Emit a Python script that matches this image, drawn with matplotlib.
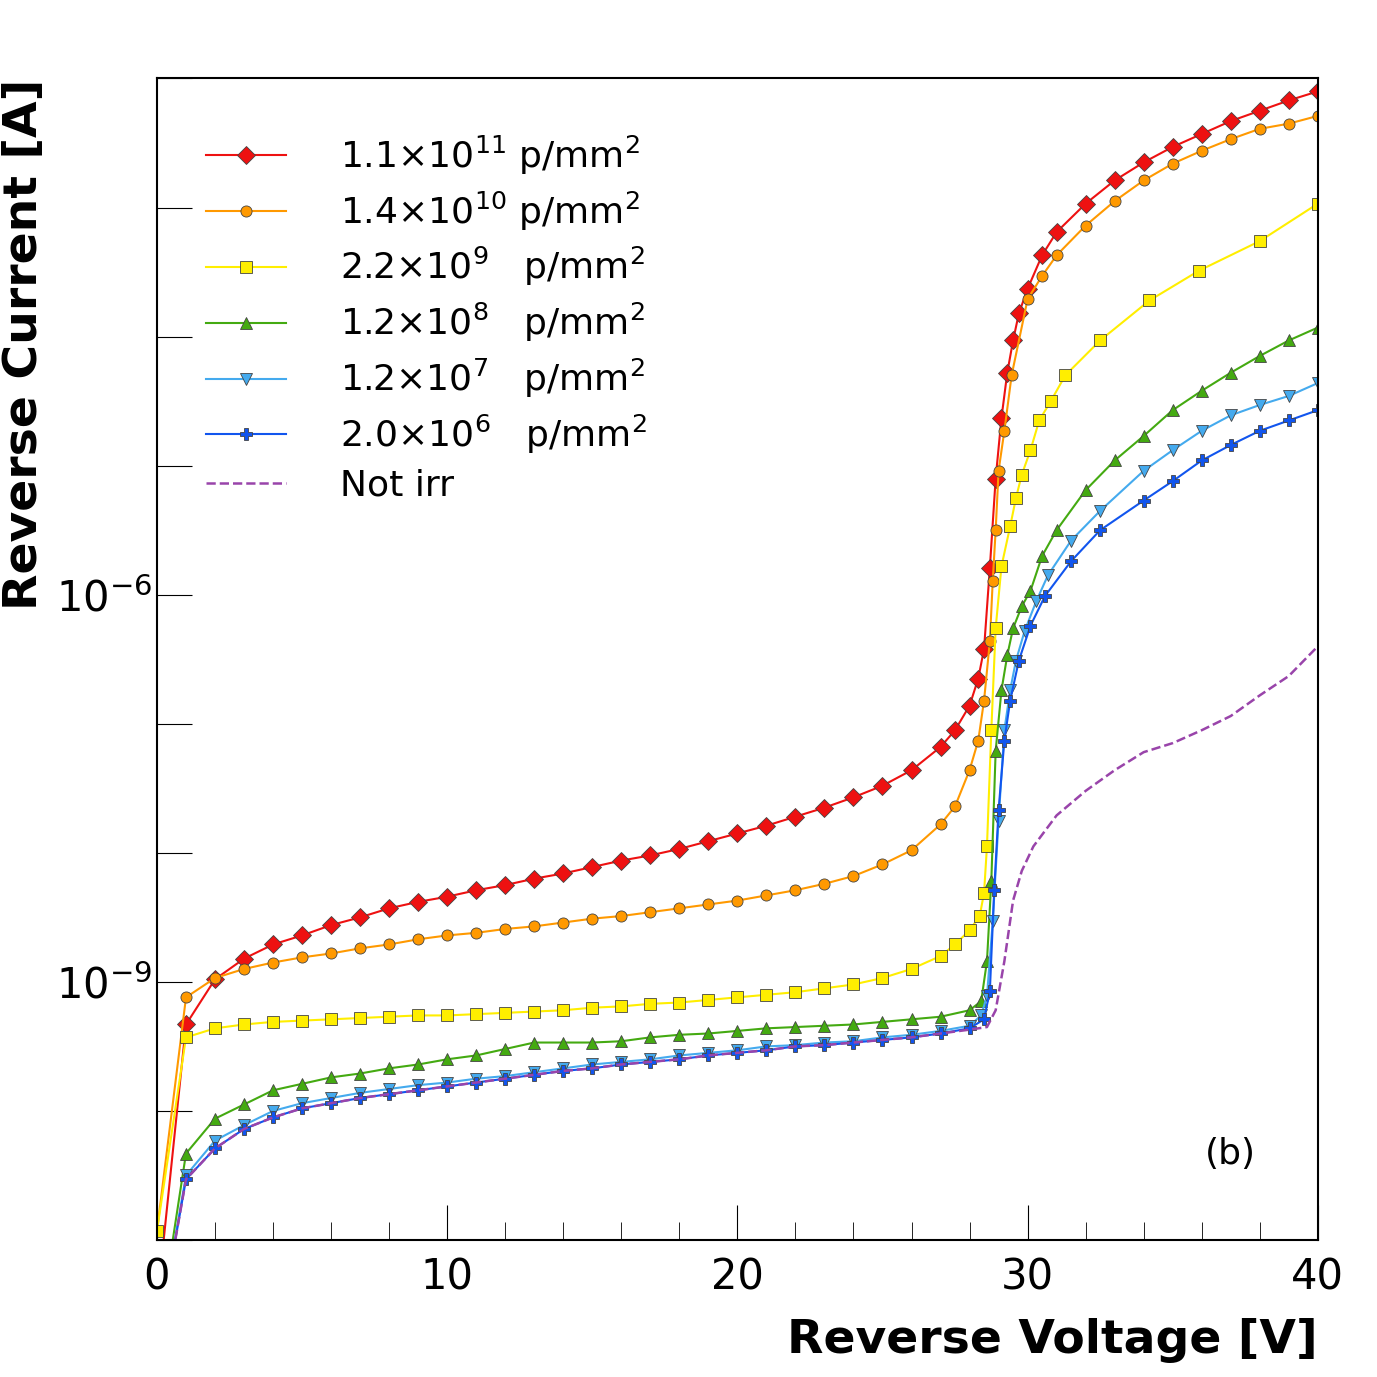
import numpy as np
import matplotlib
matplotlib.use("Agg")
import matplotlib.pyplot as plt
from matplotlib.ticker import FixedLocator, FixedFormatter, MultipleLocator

low_v = list(range(0, 26))

red_v = low_v + [26, 27, 27.5, 28, 28.3, 28.5, 28.7, 28.9, 29.1, 29.3, 29.5, 29.7, 30, 30.5, 31, 32, 33, 34, 35, 36, 37, 38, 39, 40]
red_log = [-11.5, -9.33, -8.98, -8.82, -8.71, -8.64, -8.56, -8.50, -8.43, -8.38, -8.34, -8.29, -8.25, -8.20, -8.16, -8.11,
           -8.06, -8.02, -7.97, -7.91, -7.85, -7.79, -7.72, -7.65, -7.57, -7.48,
           -7.36, -7.18, -7.05, -6.86, -6.65, -6.42, -5.79, -5.10, -4.63, -4.28, -4.03, -3.82, -3.63, -3.37, -3.19,
           -2.97, -2.79, -2.65, -2.53, -2.43, -2.33, -2.25, -2.17, -2.10]

orange_v = low_v + [26, 27, 27.5, 28, 28.3, 28.5, 28.7, 28.8, 28.9, 29.0, 29.2, 29.45, 30, 30.5, 31, 32, 33, 34, 35, 36, 37, 38, 39, 40]
orange_log = [-10.93, -9.12, -8.97, -8.90, -8.85, -8.81, -8.78, -8.74, -8.71, -8.67, -8.64, -8.62, -8.59, -8.57, -8.54, -8.51,
              -8.49, -8.46, -8.43, -8.40, -8.37, -8.33, -8.29, -8.24, -8.18, -8.09,
              -7.98, -7.78, -7.64, -7.36, -7.13, -6.82, -6.36, -5.89, -5.50, -5.04, -4.73, -4.30, -3.71, -3.53, -3.37,
              -3.14, -2.95, -2.79, -2.66, -2.56, -2.47, -2.39, -2.35, -2.29]

yellow_v = low_v + [26, 27, 27.5, 28, 28.35, 28.5, 28.6, 28.75, 28.9, 29.1, 29.4, 29.6, 29.8, 30.1, 30.4, 30.8, 31.3, 32.5, 34.2, 35.9, 38, 40]
yellow_log = [-10.93, -9.43, -9.36, -9.33, -9.31, -9.30, -9.29, -9.28, -9.27, -9.26, -9.26, -9.25, -9.24, -9.23, -9.22, -9.20,
              -9.19, -9.17, -9.16, -9.14, -9.12, -9.10, -9.08, -9.05, -9.02, -8.97,
              -8.90, -8.80, -8.71, -8.60, -8.49, -8.31, -7.95, -7.05, -6.26, -5.78, -5.47, -5.25, -5.07, -4.88, -4.65,
              -4.50, -4.30, -4.03, -3.72, -3.49, -3.26, -2.97]

green_v = low_v + [26, 27, 28, 28.4, 28.6, 28.75, 28.9, 29.1, 29.3, 29.5, 29.8, 30.1, 30.5, 31, 32, 33, 34, 35, 36, 37, 38, 39, 40]
green_log = [-11.8, -10.33, -10.06, -9.95, -9.84, -9.79, -9.74, -9.71, -9.67, -9.64, -9.60, -9.57, -9.52, -9.47, -9.47, -9.47,
             -9.46, -9.43, -9.41, -9.40, -9.38, -9.36, -9.35, -9.34, -9.33, -9.31,
             -9.29, -9.27, -9.22, -9.15, -8.84, -8.22, -7.21, -6.74, -6.47, -6.26, -6.09, -5.97, -5.70, -5.50,
             -5.19, -4.96, -4.77, -4.57, -4.42, -4.28, -4.15, -4.03, -3.93]

lblue_v = low_v + [26, 27, 28, 28.4, 28.6, 28.8, 29.0, 29.2, 29.4, 29.6, 29.9, 30.3, 30.7, 31.5, 32.5, 34, 35, 36, 37, 38, 39, 40]
lblue_log = [-11.8, -10.50, -10.23, -10.11, -10.00, -9.94, -9.90, -9.86, -9.83, -9.80, -9.78, -9.75, -9.73, -9.70, -9.67, -9.64,
             -9.62, -9.60, -9.57, -9.55, -9.53, -9.50, -9.49, -9.47, -9.46, -9.43,
             -9.41, -9.38, -9.34, -9.26, -9.11, -8.53, -7.75, -7.05, -6.74, -6.51, -6.28, -6.05, -5.85, -5.58,
             -5.35, -5.04, -4.88, -4.73, -4.61, -4.53, -4.46, -4.36]

dblue_v = low_v + [26, 27, 28, 28.5, 28.7, 28.85, 29.0, 29.2, 29.4, 29.7, 30.1, 30.6, 31.5, 32.5, 34, 35, 36, 37, 38, 39, 40]
dblue_log = [-11.8, -10.53, -10.29, -10.14, -10.05, -9.98, -9.94, -9.90, -9.87, -9.84, -9.81, -9.78, -9.75, -9.72, -9.69, -9.67,
             -9.64, -9.62, -9.60, -9.57, -9.55, -9.53, -9.50, -9.49, -9.47, -9.45,
             -9.43, -9.40, -9.36, -9.29, -9.07, -8.29, -7.67, -7.13, -6.82, -6.51, -6.24, -6.01, -5.74, -5.50,
             -5.27, -5.12, -4.96, -4.84, -4.73, -4.65, -4.57]

nirr_v = low_v + [26, 27, 28, 28.6, 28.9, 29.2, 29.5, 29.8, 30.2, 31, 32, 33, 34, 35, 36, 37, 38, 39, 40]
nirr_log = [-11.8, -10.53, -10.29, -10.14, -10.05, -9.98, -9.94, -9.90, -9.87, -9.84, -9.81, -9.78, -9.75, -9.72, -9.69, -9.67,
            -9.64, -9.62, -9.60, -9.57, -9.55, -9.53, -9.50, -9.49, -9.47, -9.45,
            -9.43, -9.40, -9.37, -9.35, -9.22, -8.84, -8.37, -8.14, -7.95, -7.71, -7.52, -7.36, -7.22, -7.15,
            -7.05, -6.94, -6.78, -6.63, -6.40]

labels = [r"1.1$\times$10$^{11}$ p/mm$^2$", r"1.4$\times$10$^{10}$ p/mm$^2$", r"2.2$\times$10$^{9}$   p/mm$^2$",
          r"1.2$\times$10$^{8}$   p/mm$^2$", r"1.2$\times$10$^{7}$   p/mm$^2$", r"2.0$\times$10$^{6}$   p/mm$^2$", "Not irr"]

fig = plt.figure(figsize=(13.77, 13.77), dpi=100)
ax = fig.add_axes([0.114, 0.0995, 0.843, 0.8435])

series = [
    (red_v, red_log, "#ee1111", "D", 9),
    (orange_v, orange_log, "#ff9900", "o", 8),
    (yellow_v, yellow_log, "#ffee00", "s", 8),
    (green_v, green_log, "#44aa11", "^", 9),
    (lblue_v, lblue_log, "#44aaee", "v", 9),
    (dblue_v, dblue_log, "#1155ee", "P", 8),
]
for (v, lg, c, m, ms), lab in zip(series, labels[:6]):
    ax.plot(v, 10.0 ** np.array(lg), color=c, marker=m, markersize=ms, markeredgecolor="#444444",
            markeredgewidth=0.6, lw=1.5, label=lab, clip_on=True)
ax.plot(nirr_v, 10.0 ** np.array(nirr_log), color="#9944aa", ls="--", lw=1.8, label=labels[6])

ax.set_yscale("log")
ax.set_xlim(0, 40)
ax.set_ylim(1e-11, 1e-2)
ax.yaxis.set_major_locator(FixedLocator([10.0 ** k for k in range(-11, -1)]))
ax.yaxis.set_minor_locator(FixedLocator([]))
ax.yaxis.set_major_formatter(FixedFormatter(["", "", r"$10^{-9}$", "", "", r"$10^{-6}$", "", "", "", ""]))
ax.xaxis.set_major_locator(MultipleLocator(10))
ax.xaxis.set_minor_locator(MultipleLocator(2))
ax.tick_params(axis="both", which="both", direction="in", top=False, right=False, labelsize=30)
ax.tick_params(axis="y", which="major", length=25)
ax.tick_params(axis="x", which="major", length=25, pad=12)
ax.tick_params(axis="x", which="minor", length=13)
for s in ax.spines.values():
    s.set_linewidth(1.5)

ax.set_xlabel("Reverse Voltage [V]", fontsize=34, fontweight="bold", loc="right", labelpad=14)
ax.set_ylabel("Reverse Current [A]", fontsize=34, fontweight="bold", loc="top", labelpad=6)
ax.text(0.925, 0.065, "(b)", transform=ax.transAxes, fontsize=26, ha="center")

leg = ax.legend(loc="upper left", bbox_to_anchor=(0.03, 0.965), fontsize=26, frameon=False,
                handlelength=2.2, labelspacing=0.35, handletextpad=1.5, borderaxespad=0)

fig.savefig("out.png", dpi=100)
